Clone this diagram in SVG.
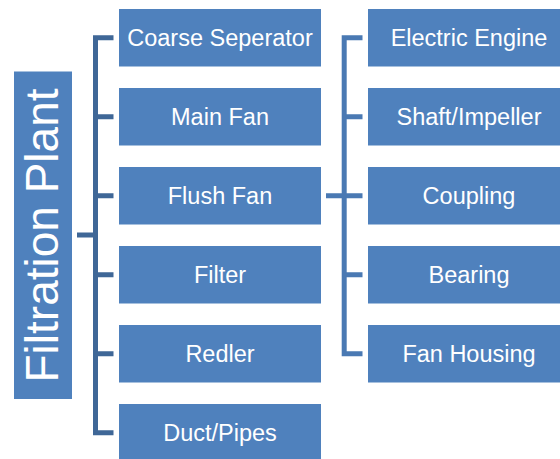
<svg xmlns="http://www.w3.org/2000/svg" width="560" height="459" viewBox="0 0 560 459">
<style>
.box{fill:#4F81BD}
.t{fill:#FFFFFF;font-family:"Liberation Sans",Arial,sans-serif;font-size:23.5px;text-anchor:middle}
.big{fill:#FFFFFF;font-family:"Liberation Sans",Arial,sans-serif;font-size:46px;text-anchor:middle}
.c1{fill:none;stroke:#3F6797;stroke-width:5}
.c2{fill:none;stroke:#4A79B3;stroke-width:5}
</style>
<rect width="560" height="459" fill="#FFFFFF"/>
<g id="connectors">
<path class="c1" d="M113.5,37.75 H95.5 V432.75 H113.5 M95.5,116.75 H113.5 M95.5,195.75 H113.5 M95.5,274.75 H113.5 M95.5,353.75 H113.5 M77,235 H95.5"/>
<path class="c2" d="M362.5,37.75 H344.2 V353.75 H362.5 M344.2,116.75 H362.5 M344.2,274.75 H362.5 M326,195.75 H362.5"/>
</g>
<g id="filtration-plant">
<rect class="box" x="14" y="71.5" width="58" height="327.5"/>
<text class="big" transform="translate(58,235.5) rotate(-90)">Filtration Plant</text>
</g>
<g id="coarse-seperator"><rect class="box" x="119" y="9" width="202" height="57.5"/><text class="t" x="220" y="46.2">Coarse Seperator</text></g>
<g id="main-fan"><rect class="box" x="119" y="88" width="202" height="57.5"/><text class="t" x="220" y="125.2">Main Fan</text></g>
<g id="flush-fan"><rect class="box" x="119" y="167" width="202" height="57.5"/><text class="t" x="220" y="204.2">Flush Fan</text></g>
<g id="filter"><rect class="box" x="119" y="246" width="202" height="57.5"/><text class="t" x="220" y="283.2">Filter</text></g>
<g id="redler"><rect class="box" x="119" y="325" width="202" height="57.5"/><text class="t" x="220" y="362.2">Redler</text></g>
<g id="duct-pipes"><rect class="box" x="119" y="404" width="202" height="57.5"/><text class="t" x="220" y="441.2">Duct/Pipes</text></g>
<g id="electric-engine"><rect class="box" x="368" y="9" width="202" height="57.5"/><text class="t" x="469" y="46.2">Electric Engine</text></g>
<g id="shaft-impeller"><rect class="box" x="368" y="88" width="202" height="57.5"/><text class="t" x="469" y="125.2">Shaft/Impeller</text></g>
<g id="coupling"><rect class="box" x="368" y="167" width="202" height="57.5"/><text class="t" x="469" y="204.2">Coupling</text></g>
<g id="bearing"><rect class="box" x="368" y="246" width="202" height="57.5"/><text class="t" x="469" y="283.2">Bearing</text></g>
<g id="fan-housing"><rect class="box" x="368" y="325" width="202" height="57.5"/><text class="t" x="469" y="362.2">Fan Housing</text></g>
</svg>
